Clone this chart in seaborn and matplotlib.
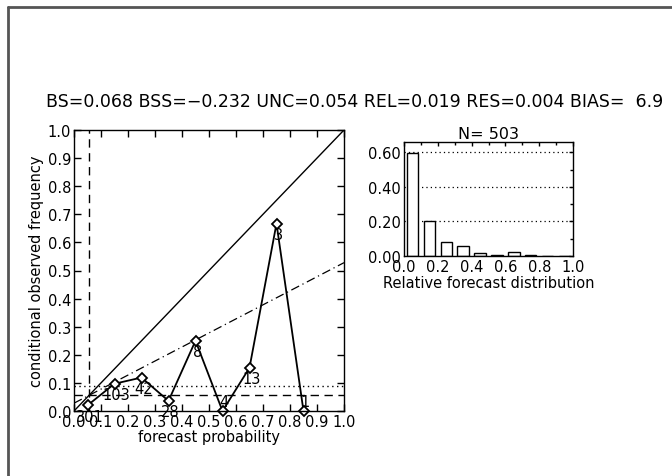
import numpy as np
import pandas as pd
import matplotlib
matplotlib.use("Agg")
import matplotlib.pyplot as plt
from matplotlib.lines import Line2D
import seaborn as sns

# ---- data ----
bin_centers = [0.05, 0.15, 0.25, 0.35, 0.45, 0.55, 0.65, 0.75, 0.85, 0.95]
counts = [301, 103, 42, 28, 8, 4, 13, 3, 1, 0]
obs_freq = [0.020, 0.097, 0.119, 0.036, 0.250, 0.0, 0.154, 0.667, 0.0]
climatology = 0.0557
dotted_level = 0.09
rel_dist = [0.598, 0.205, 0.083, 0.056, 0.016, 0.008, 0.026, 0.006, 0.002, 0.0]
ticks_main = [round(0.1 * i, 1) for i in range(11)]
title_text = "BS=0.068 BSS=\u22120.232 UNC=0.054 REL=0.019 RES=0.004 BIAS=  6.9"

sns.set_theme(style="white")
plt.rcParams["font.family"] = ["DejaVu Sans"]
for k in ["text.color", "axes.labelcolor", "xtick.color", "ytick.color", "axes.edgecolor"]:
    plt.rcParams[k] = "black"

W, H = 672, 477
fig = plt.figure(figsize=(W / 100, H / 100), dpi=100)

def ax_rect(x0, y0, x1, y1):
    return [x0 / W, 1 - y1 / H, (x1 - x0) / W, (y1 - y0) / H]

# frame lines
fig.add_artist(Line2D([8 / W, 1], [1 - 8 / H, 1 - 8 / H], color="#555555", lw=2, transform=fig.transFigure))
fig.add_artist(Line2D([8 / W, 8 / W], [0, 1 - 8 / H], color="#555555", lw=2, transform=fig.transFigure))

fs = 10.5
fig.text(46 / W, 1 - 102 / H, title_text, fontsize=12.5, va="center", ha="left")

# ---- main reliability diagram ----
ax = fig.add_axes(ax_rect(74, 131, 344, 412))
ax.set_xlim(0, 1)
ax.set_ylim(0, 1)
x = np.array([0, 1])
ax.plot(x, x, color="black", lw=1)
ax.plot(x, (x + climatology) / 2, color="black", lw=0.9, ls=(0, (7, 3, 1, 3)))
ax.axhline(climatology, color="black", lw=1, ls=(0, (6, 4)))
ax.axvline(climatology, color="black", lw=1, ls=(0, (6, 4)))
ax.axhline(dotted_level, color="black", lw=1, ls=(0, (1, 2.5)))

df = pd.DataFrame({"p": bin_centers[:len(obs_freq)], "f": obs_freq})
sns.lineplot(data=df, x="p", y="f", ax=ax, color="black", lw=1.3, marker="D",
             markersize=5.5, markerfacecolor="white", markeredgecolor="black",
             markeredgewidth=1.3, clip_on=False)
for p, f, n in zip(bin_centers, obs_freq, counts):
    ty = f - 0.038 if f > 0 else f + 0.035
    ax.text(p + 0.007, ty, str(n), ha="center", va="center", fontsize=fs)

ax.set_xticks(ticks_main)
ax.set_yticks(ticks_main)
ax.set_xticklabels([f"{t:.1f}" for t in ticks_main], fontsize=fs)
ax.set_yticklabels([f"{t:.1f}" for t in ticks_main], fontsize=fs)
ax.tick_params(direction="in", length=5, width=1, top=True, right=True, bottom=True, left=True, pad=2)
ax.set_xlabel("forecast probability", fontsize=fs, labelpad=0)
ax.set_ylabel("conditional observed frequency", fontsize=fs, labelpad=3)
for s in ax.spines.values():
    s.set_color("black")
    s.set_linewidth(1)

# ---- inset histogram ----
ax2 = fig.add_axes(ax_rect(404, 143, 573, 257))
bdf = pd.DataFrame({"p": bin_centers, "r": rel_dist})
sns.barplot(data=bdf, x="p", y="r", ax=ax2, native_scale=True, width=0.68,
            color="white", edgecolor="black", linewidth=1, saturation=1)
ax2.set_xlim(0, 1)
ax2.set_ylim(0, 0.66)
for lv in [0.2, 0.4, 0.6]:
    ax2.axhline(lv, color="black", lw=0.9, ls=(0, (1, 2.5)), zorder=0)
ax2.set_xticks([0, 0.2, 0.4, 0.6, 0.8, 1.0])
ax2.set_xticklabels(["0.0", "0.2", "0.4", "0.6", "0.8", "1.0"], fontsize=fs)
ax2.set_yticks([0, 0.2, 0.4, 0.6])
ax2.set_yticklabels(["0.00", "0.20", "0.40", "0.60"], fontsize=fs)
ax2.set_xticks(np.arange(0, 1.01, 0.1), minor=True)
ax2.set_yticks(np.arange(0, 0.61, 0.1), minor=True)
ax2.tick_params(which="both", direction="in", top=True, right=True, length=3, width=1, pad=2)
ax2.tick_params(which="minor", length=2)
ax2.set_xlabel("Relative forecast distribution", fontsize=fs, labelpad=1)
ax2.set_ylabel("")
ax2.set_title("N= 503", fontsize=fs + 1, pad=3)
for s in ax2.spines.values():
    s.set_color("black")
    s.set_linewidth(1)

fig.savefig("out.png", dpi=100, facecolor="white")
